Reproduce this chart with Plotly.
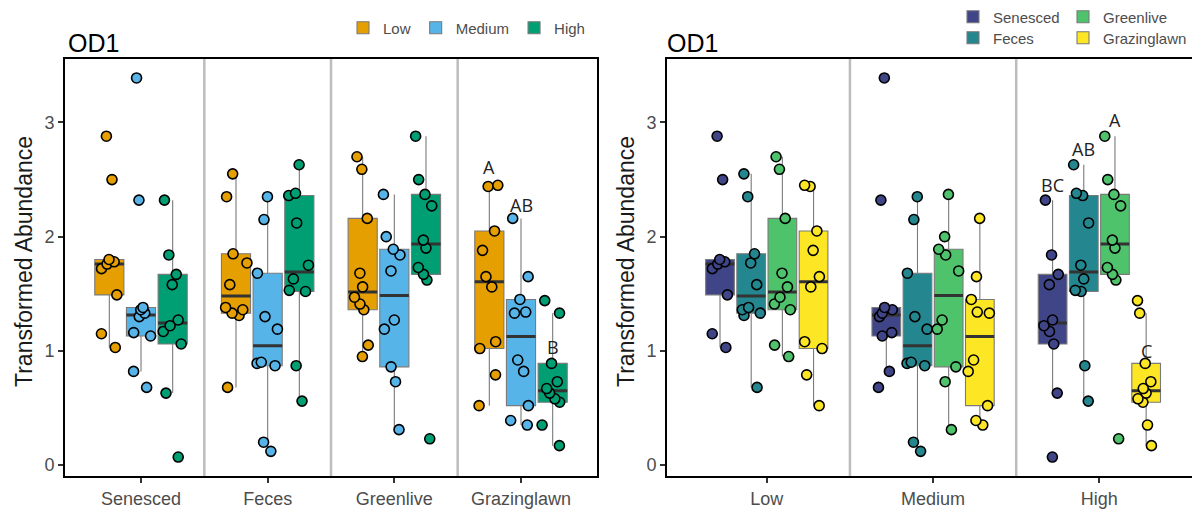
import numpy as np
import plotly.graph_objects as go

# ---------------- data ----------------
substrates = ["Senesced", "Feces", "Greenlive", "Grazinglawn"]
levels = ["Low", "Medium", "High"]

senesced_low = [2.88, 2.50, 1.80, 1.78, 1.76, 1.72, 1.49, 1.15, 1.03]
senesced_medium = [3.39, 2.32, 1.38, 1.36, 1.33, 1.30, 1.16, 1.13, 0.82, 0.68]
senesced_high = [2.32, 1.84, 1.67, 1.58, 1.27, 1.22, 1.17, 1.06, 0.63, 0.07]
feces_low = [2.55, 2.35, 1.85, 1.77, 1.58, 1.38, 1.36, 1.33, 1.31, 0.68]
feces_medium = [2.35, 2.15, 1.68, 1.30, 1.19, 0.90, 0.89, 0.87, 0.20, 0.12]
feces_high = [2.63, 2.38, 2.36, 2.12, 1.75, 1.63, 1.53, 1.52, 0.87, 0.56]
greenlive_low = [2.70, 2.59, 2.16, 1.68, 1.56, 1.47, 1.41, 1.36, 1.05, 0.95]
greenlive_medium = [2.37, 2.00, 1.89, 1.84, 1.70, 1.27, 1.19, 0.86, 0.73, 0.31]
greenlive_high = [2.88, 2.50, 2.37, 2.27, 1.97, 1.90, 1.73, 1.67, 1.62, 0.23]
grazinglawn_low = [2.45, 2.44, 2.05, 1.88, 1.65, 1.56, 1.08, 1.02, 0.79, 0.52]
grazinglawn_medium = [2.16, 1.65, 1.45, 1.34, 1.33, 0.92, 0.82, 0.52, 0.39, 0.35]
grazinglawn_high = [1.44, 1.33, 0.89, 0.73, 0.67, 0.63, 0.58, 0.55, 0.35, 0.17]

values = {
    ("Senesced", "Low"): senesced_low,
    ("Senesced", "Medium"): senesced_medium,
    ("Senesced", "High"): senesced_high,
    ("Feces", "Low"): feces_low,
    ("Feces", "Medium"): feces_medium,
    ("Feces", "High"): feces_high,
    ("Greenlive", "Low"): greenlive_low,
    ("Greenlive", "Medium"): greenlive_medium,
    ("Greenlive", "High"): greenlive_high,
    ("Grazinglawn", "Low"): grazinglawn_low,
    ("Grazinglawn", "Medium"): grazinglawn_medium,
    ("Grazinglawn", "High"): grazinglawn_high,
}

# significance letters (Grazinglawn in left panel, High in right panel)
left_letters = ["A", "AB", "B"]            # Low, Medium, High
left_letters_y = [2.61, 2.28, 1.03]
right_letters = ["BC", "AB", "A", "C"]     # Senesced, Feces, Greenlive, Grazinglawn
right_letters_y = [2.45, 2.77, 3.02, 1.00]

y_ticks = [0, 1, 2, 3]

level_colors = {"Low": "#E69F00", "Medium": "#56B4E9", "High": "#009E73"}
sub_colors = {"Senesced": "#404588", "Feces": "#24868E",
              "Greenlive": "#4EC36B", "Grazinglawn": "#FDE725"}

W, H = 1192, 518
FONT = "Liberation Sans, Arial, sans-serif"


def add_series(fig, name, cats, groups, color, xa, ya, align, legend):
    xs, ys = [], []
    for c, v in zip(cats, groups):
        xs += [c] * len(v)
        ys += v
    common = dict(xaxis=xa, yaxis=ya, alignmentgroup=align, offsetgroup=name,
                  quartilemethod="inclusive", whiskerwidth=0, hoverinfo="skip")
    # box + whiskers
    fig.add_trace(go.Box(
        x=xs, y=ys, name=name, legend=legend, fillcolor=color,
        line=dict(color="#7a7a7a", width=1.1),
        marker=dict(color=color, opacity=0, size=2),
        boxpoints="all", jitter=0, pointpos=0, **common))
    # median bar
    meds = [float(np.median(v)) for v in groups]
    fig.add_trace(go.Box(
        x=cats, q1=meds, median=meds, q3=meds, lowerfence=meds, upperfence=meds,
        name=name, showlegend=False, fillcolor="rgba(0,0,0,0)",
        line=dict(color="#333333", width=3), boxpoints=False, **common))
    # jittered points
    fig.add_trace(go.Box(
        x=xs, y=ys, name=name, showlegend=False, fillcolor="rgba(0,0,0,0)",
        line=dict(color="rgba(0,0,0,0)", width=0),
        marker=dict(color=color, size=10, opacity=1, line=dict(color="black", width=1.6)),
        boxpoints="all", jitter=0.85, pointpos=0, **common))


fig = go.Figure()

# left panel: x = substrate, colour = level
for lev in levels:
    add_series(fig, lev, substrates, [values[(s, lev)] for s in substrates],
               level_colors[lev], "x", "y", "left", "legend")

# right panel: x = level, colour = substrate
sub_legend = {"Senesced": "legend2", "Greenlive": "legend3",
              "Feces": "legend4", "Grazinglawn": "legend5"}
for s in substrates:
    add_series(fig, s, levels, [values[(s, lev)] for lev in levels],
               sub_colors[s], "x2", "y2", "right", sub_legend[s])

tickfont = dict(family=FONT, size=18, color="#4d4d4d")
ydom = [1 - 476 / H, 1 - 59 / H]
axis_common = dict(showline=True, linecolor="black", linewidth=2, ticks="outside",
                   ticklen=5, tickwidth=1.5, tickcolor="#333333", tickfont=tickfont,
                   showgrid=False, zeroline=False, fixedrange=True)
legfont = dict(family=FONT, size=15, color="#4d4d4d")


def leg(x, y, orient="v"):
    return dict(orientation=orient, x=x / W, y=1 - y / H, xanchor="left",
                yanchor="middle", font=legfont, bgcolor="rgba(0,0,0,0)")


fig.update_layout(
    width=W, height=H, margin=dict(l=0, r=0, t=0, b=0),
    paper_bgcolor="white", plot_bgcolor="white",
    boxmode="group", boxgap=0.25, boxgroupgap=0.08,
    font=dict(family=FONT),
    xaxis=dict(domain=[65 / W, 597 / W], anchor="y", type="category",
               categoryorder="array", categoryarray=substrates,
               range=[-0.6, 3.6], mirror=True, **axis_common),
    yaxis=dict(domain=ydom, anchor="x", range=[-0.096, 3.556],
               tickvals=y_ticks, mirror=True, **axis_common),
    xaxis2=dict(domain=[667 / W, 1.0], anchor="y2", type="category",
                categoryorder="array", categoryarray=levels,
                range=[-0.6, 2.557], mirror=True, **axis_common),
    yaxis2=dict(domain=ydom, anchor="x2", range=[-0.096, 3.556],
                tickvals=y_ticks, mirror=False, **axis_common),
    legend=leg(343, 28, "h"),
    legend2=leg(953, 17),
    legend3=leg(1063, 17),
    legend4=leg(953, 38),
    legend5=leg(1063, 38),
)

# separators between groups
shapes = []
for k in range(len(substrates) - 1):
    shapes.append(dict(type="line", xref="x", yref="y domain", x0=k + 0.5, x1=k + 0.5,
                       y0=0, y1=1, line=dict(color="#bdbdbd", width=2.5), layer="below"))
for k in range(len(levels) - 1):
    shapes.append(dict(type="line", xref="x2", yref="y2 domain", x0=k + 0.5, x1=k + 0.5,
                       y0=0, y1=1, line=dict(color="#bdbdbd", width=2.5), layer="below"))
fig.update_layout(shapes=shapes)

annotations = []
for px in (66, 665):
    annotations.append(dict(text="OD1", xref="paper", yref="paper", x=px / W, y=1 - 43 / H,
                            xanchor="left", yanchor="middle", showarrow=False,
                            font=dict(family=FONT, size=25, color="black")))
for px in (24, 626):
    annotations.append(dict(text="Transformed Abundance", xref="paper", yref="paper",
                            x=px / W, y=1 - 262 / H, textangle=-90, showarrow=False,
                            xanchor="center", yanchor="middle",
                            font=dict(family=FONT, size=23, color="#1a1a1a")))

LFONT = dict(family="Open Sans, sans-serif", size=18, color="#222222")
slot_l = 0.75 / len(levels)
gi = substrates.index("Grazinglawn")
for j, (t, yv) in enumerate(zip(left_letters, left_letters_y)):
    annotations.append(dict(text=t, xref="x", yref="y", x=gi - 0.375 + slot_l * (j + 0.5),
                            y=yv, showarrow=False, font=LFONT))
slot_r = 0.75 / len(substrates)
hi = levels.index("High")
for j, (t, yv) in enumerate(zip(right_letters, right_letters_y)):
    annotations.append(dict(text=t, xref="x2", yref="y2", x=hi - 0.375 + slot_r * (j + 0.5),
                            y=yv, showarrow=False, font=LFONT))
fig.update_layout(annotations=annotations)

fig.write_html("out.html")
